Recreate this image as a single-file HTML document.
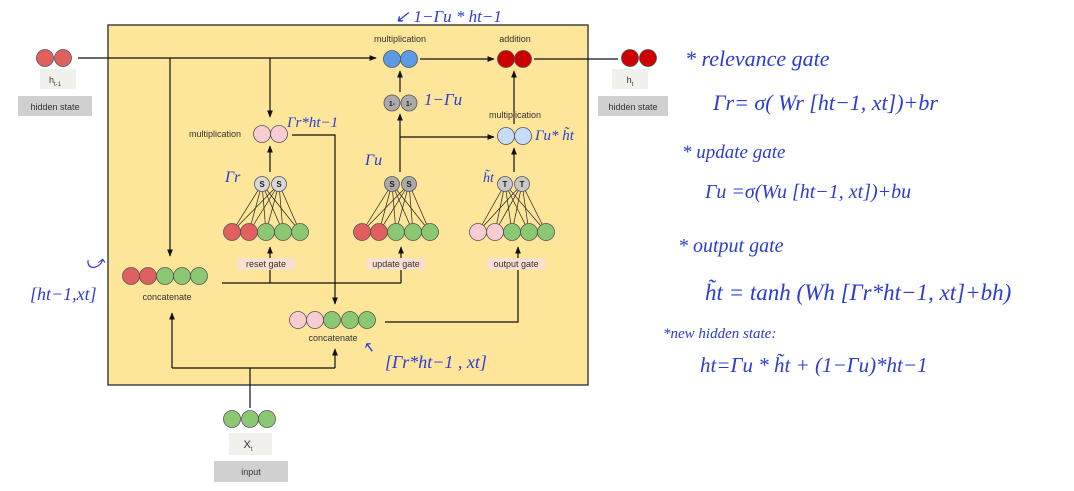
<!DOCTYPE html>
<html><head><meta charset="utf-8"><style>
body{margin:0;background:#fff;}
svg{display:block;font-family:"Liberation Sans",sans-serif;}
.l{font-size:9px;fill:#333;}
.h{font-family:"Liberation Serif",serif;font-style:italic;fill:#2b3bd6;}
</style></head><body>
<svg width="1074" height="491" viewBox="0 0 1074 491">
<defs><marker id="a" viewBox="0 0 10 10" refX="9" refY="5" markerWidth="6" markerHeight="6" orient="auto"><path d="M0,1 L10,5 L0,9z" fill="#111"/></marker></defs>
<rect x="108" y="25" width="480" height="360" fill="#fde59a" stroke="#444" stroke-width="1.5"/>
<g stroke="#111" stroke-width="1.2" fill="none">
<path d="M78,58 H376" marker-end="url(#a)"/>
<path d="M420,59 H494" marker-end="url(#a)"/>
<path d="M534,59 H618"/>
<path d="M170,58 V256" marker-end="url(#a)"/>
<path d="M270,58 V117" marker-end="url(#a)"/>
<path d="M292,135 H335 V304" marker-end="url(#a)"/>
<path d="M270,172 V146" marker-end="url(#a)"/>
<path d="M400,172 V114" marker-end="url(#a)"/>
<path d="M400,92 V71" marker-end="url(#a)"/>
<path d="M400,137 H494" marker-end="url(#a)"/>
<path d="M514,172 V148" marker-end="url(#a)"/>
<path d="M514,124 V71" marker-end="url(#a)"/>
<path d="M222,283 H401"/>
<path d="M270,283 V247" marker-end="url(#a)"/>
<path d="M401,283 V247" marker-end="url(#a)"/>
<path d="M385,322 H518 V247" marker-end="url(#a)"/>
<path d="M250,408 V368 M172,368 H335"/>
<path d="M172,368 V313" marker-end="url(#a)"/>
<path d="M335,368 V349" marker-end="url(#a)"/>
</g>
<g stroke="#222" stroke-width="0.7">
<path d="M232,232 L262,184 M232,232 L279,184 M249,232 L262,184 M249,232 L279,184 M266,232 L262,184 M266,232 L279,184 M283,232 L262,184 M283,232 L279,184 M300,232 L262,184 M300,232 L279,184"/>
<path d="M362,232 L392,184 M362,232 L409,184 M379,232 L392,184 M379,232 L409,184 M396,232 L392,184 M396,232 L409,184 M413,232 L392,184 M413,232 L409,184 M430,232 L392,184 M430,232 L409,184"/>
<path d="M478,232 L505,184 M478,232 L522,184 M495,232 L505,184 M495,232 L522,184 M512,232 L505,184 M512,232 L522,184 M529,232 L505,184 M529,232 L522,184 M546,232 L505,184 M546,232 L522,184"/>
</g>
<g stroke="#555" stroke-width="0.8">
<circle cx="45" cy="58" r="8.5" fill="#e06060"/><circle cx="63" cy="58" r="8.5" fill="#e06060"/>
<circle cx="630" cy="58" r="8.5" fill="#cc0000"/><circle cx="648" cy="58" r="8.5" fill="#cc0000"/>
<circle cx="392" cy="59" r="8.5" fill="#5b9be6"/><circle cx="409" cy="59" r="8.5" fill="#5b9be6"/>
<circle cx="506" cy="59" r="8.5" fill="#cc0000"/><circle cx="523" cy="59" r="8.5" fill="#cc0000"/>
<circle cx="392" cy="103" r="8" fill="#aaa"/><circle cx="409" cy="103" r="8" fill="#aaa"/>
<circle cx="262" cy="134" r="8.5" fill="#f7cdd3"/><circle cx="279" cy="134" r="8.5" fill="#f7cdd3"/>
<circle cx="506" cy="136" r="8.5" fill="#c6dcf7"/><circle cx="523" cy="136" r="8.5" fill="#c6dcf7"/>
<circle cx="262" cy="184" r="7.5" fill="#d8d8d8"/><circle cx="279" cy="184" r="7.5" fill="#d8d8d8"/>
<circle cx="392" cy="184" r="7.5" fill="#aaa"/><circle cx="409" cy="184" r="7.5" fill="#aaa"/>
<circle cx="505" cy="184" r="7.5" fill="#c8c8c8"/><circle cx="522" cy="184" r="7.5" fill="#c8c8c8"/>
<circle cx="232" cy="232" r="8.5" fill="#e06060"/><circle cx="249" cy="232" r="8.5" fill="#e06060"/><circle cx="266" cy="232" r="8.5" fill="#8cc874"/><circle cx="283" cy="232" r="8.5" fill="#8cc874"/><circle cx="300" cy="232" r="8.5" fill="#8cc874"/>
<circle cx="362" cy="232" r="8.5" fill="#e06060"/><circle cx="379" cy="232" r="8.5" fill="#e06060"/><circle cx="396" cy="232" r="8.5" fill="#8cc874"/><circle cx="413" cy="232" r="8.5" fill="#8cc874"/><circle cx="430" cy="232" r="8.5" fill="#8cc874"/>
<circle cx="478" cy="232" r="8.5" fill="#f7cdd3"/><circle cx="495" cy="232" r="8.5" fill="#f7cdd3"/><circle cx="512" cy="232" r="8.5" fill="#8cc874"/><circle cx="529" cy="232" r="8.5" fill="#8cc874"/><circle cx="546" cy="232" r="8.5" fill="#8cc874"/>
<circle cx="131" cy="276" r="8.5" fill="#e06060"/><circle cx="148" cy="276" r="8.5" fill="#e06060"/><circle cx="165" cy="276" r="8.5" fill="#8cc874"/><circle cx="182" cy="276" r="8.5" fill="#8cc874"/><circle cx="199" cy="276" r="8.5" fill="#8cc874"/>
<circle cx="298" cy="320" r="8.5" fill="#f7cdd3"/><circle cx="315" cy="320" r="8.5" fill="#f7cdd3"/><circle cx="332" cy="320" r="8.5" fill="#8cc874"/><circle cx="350" cy="320" r="8.5" fill="#8cc874"/><circle cx="367" cy="320" r="8.5" fill="#8cc874"/>
<circle cx="232" cy="419" r="8.5" fill="#8cc874"/><circle cx="250" cy="419" r="8.5" fill="#8cc874"/><circle cx="267" cy="419" r="8.5" fill="#8cc874"/>
</g>
<g font-size="8" font-weight="bold" text-anchor="middle" fill="#222">
<text x="262" y="187">S</text><text x="279" y="187">S</text>
<text x="392" y="187">S</text><text x="409" y="187">S</text>
<text x="505" y="187">T</text><text x="522" y="187">T</text>
<text x="392" y="106" font-size="7">1-</text><text x="409" y="106" font-size="7">1-</text>
</g>
<rect x="237" y="258" width="58" height="12" fill="#fbe0d0"/><rect x="367" y="258" width="58" height="12" fill="#fbe0d0"/><rect x="487" y="258" width="58" height="12" fill="#fbe0d0"/>
<g class="l" text-anchor="middle" font-size="7.5">
<text x="266" y="267">reset gate</text><text x="396" y="267">update gate</text><text x="516" y="267">output gate</text>
</g>
<g class="l" text-anchor="middle">
<text x="400" y="42">multiplication</text><text x="515" y="42">addition</text>
<text x="515" y="118">multiplication</text><text x="215" y="137">multiplication</text>
<text x="167" y="300">concatenate</text><text x="333" y="341">concatenate</text>
</g>
<rect x="40" y="69" width="36" height="20" fill="#f1f0ec"/><rect x="18" y="96" width="74" height="20" fill="#d0d0d0"/>
<rect x="612" y="69" width="36" height="20" fill="#f1f0ec"/><rect x="598" y="96" width="70" height="20" fill="#d0d0d0"/>
<rect x="229" y="433" width="43" height="22" fill="#f1f0ec"/><rect x="214" y="461" width="74" height="21" fill="#d0d0d0"/>
<g class="l" text-anchor="middle">
<text x="55" y="83">h<tspan font-size="6" dy="3">t-1</tspan></text><text x="55" y="110">hidden state</text>
<text x="630" y="83">h<tspan font-size="6" dy="3">t</tspan></text><text x="633" y="110">hidden state</text>
<text x="248" y="448" font-size="11">X<tspan font-size="6" dy="3">t</tspan></text><text x="251" y="475">input</text>
</g>
<g class="h">
<text x="395" y="22" font-size="17">↙ 1−Γu * ht−1</text>
<text x="424" y="105" font-size="17">1−Γu</text>
<text x="287" y="127" font-size="15">Γr*ht−1</text>
<text x="225" y="182" font-size="16">Γr</text>
<text x="365" y="165" font-size="16">Γu</text>
<text x="483" y="182" font-size="14">h̃t</text>
<text x="535" y="140" font-size="15">Γu* h̃t</text>
<text x="30" y="300" font-size="18">[ht−1,xt]</text>
<text x="85" y="268" font-size="18">⤻</text>
<text x="385" y="368" font-size="18">[Γr*ht−1 , xt]</text>
<text x="362" y="352" font-size="15">↖</text>
<text x="685" y="66" font-size="22">* relevance gate</text>
<text x="713" y="110" font-size="22">Γr= σ( Wr [ht−1, xt])+br</text>
<text x="682" y="158" font-size="19">* update gate</text>
<text x="705" y="198" font-size="20">Γu =σ(Wu [ht−1, xt])+bu</text>
<text x="678" y="252" font-size="20">* output gate</text>
<text x="705" y="300" font-size="23">h̃t = tanh (Wh [Γr*ht−1, xt]+bh)</text>
<text x="663" y="338" font-size="15">*new hidden state:</text>
<text x="700" y="372" font-size="21">ht=Γu * h̃t + (1−Γu)*ht−1</text>
</g>
</svg>
</body></html>
